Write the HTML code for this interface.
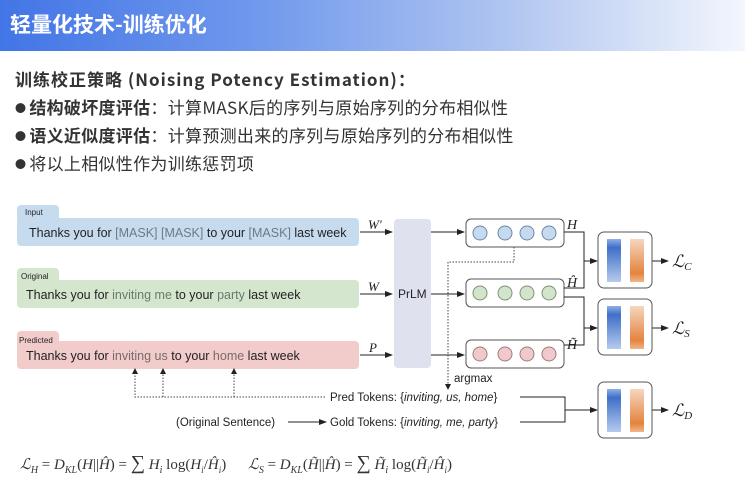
<!DOCTYPE html>
<html><head><meta charset="utf-8"><style>
body{margin:0;width:745px;height:502px;overflow:hidden;background:#fff;font-family:"Liberation Sans","Noto Sans CJK SC",sans-serif;position:relative}
.hdr{position:absolute;left:0;top:0;width:745px;height:51px;background:linear-gradient(90deg,#4275e6 0%,#7199ec 35%,#b4c8f1 70%,#f3f6fd 100%)}
.hdr span{position:absolute;left:10px;top:9px;color:#fff;font-size:21px;font-weight:bold;font-family:"Noto Sans CJK SC",sans-serif}
.t{position:absolute;left:15px;font-size:17px;color:#333;font-family:"Noto Sans CJK SC",sans-serif;white-space:nowrap;letter-spacing:0.3px}
.b{font-size:11px;vertical-align:2px;margin-right:3px}
.m{position:absolute;top:452px;font-family:"Liberation Serif",serif;font-size:15px;color:#333;white-space:nowrap}
</style></head><body>
<div class="hdr"><span>轻量化技术-训练优化</span></div>
<div class="t" style="top:66px;font-weight:bold;letter-spacing:1px">训练校正策略 (Noising Potency Estimation)：</div>
<div class="t" style="top:94px"><span class="b">●</span><b>结构破坏度评估</b>：计算MASK后的序列与原始序列的分布相似性</div>
<div class="t" style="top:122px"><span class="b">●</span><b>语义近似度评估</b>：计算预测出来的序列与原始序列的分布相似性</div>
<div class="t" style="top:150px"><span class="b">●</span>将以上相似性作为训练惩罚项</div>
<svg width="745" height="502" style="position:absolute;left:0;top:0" font-family="Liberation Sans,sans-serif">
<defs>
<marker id="a" markerWidth="8" markerHeight="6" refX="7" refY="3" orient="auto"><path d="M0,0L8,3L0,6z" fill="#222"/></marker>
<linearGradient id="bl" x1="0" y1="0" x2="0" y2="1"><stop offset="0" stop-color="#8fb0e6"/><stop offset=".2" stop-color="#3f6fc8"/><stop offset="1" stop-color="#b5cbee"/></linearGradient>
<linearGradient id="or" x1="0" y1="0" x2="0" y2="1"><stop offset="0" stop-color="#f6d6bf"/><stop offset=".8" stop-color="#e4843e"/><stop offset="1" stop-color="#f1b58a"/></linearGradient>
</defs>
<g font-size="12.5" fill="#222">
<rect x="17" y="205" width="42" height="18" rx="4" fill="#c7dbef"/>
<rect x="17" y="218" width="342" height="28" rx="4" fill="#c7dbef"/>
<text x="25" y="215" font-size="8">Input</text>
<text x="29" y="237">Thanks you for <tspan fill="#6a7a88">[MASK] [MASK]</tspan> to your <tspan fill="#6a7a88">[MASK]</tspan> last week</text>
<rect x="17" y="268" width="42" height="18" rx="4" fill="#d5e6cf"/>
<rect x="17" y="280" width="342" height="28" rx="4" fill="#d5e6cf"/>
<text x="21" y="279" font-size="8">Original</text>
<text x="26" y="299">Thanks you for <tspan fill="#6a7a6a">inviting me</tspan> to your <tspan fill="#6a7a6a">party</tspan> last week</text>
<rect x="17" y="331" width="42" height="18" rx="4" fill="#f1cccb"/>
<rect x="17" y="341" width="342" height="28" rx="4" fill="#f1cccb"/>
<text x="19" y="343" font-size="8">Predicted</text>
<text x="26" y="360">Thanks you for <tspan fill="#7a6a6a">inviting us</tspan> to your <tspan fill="#7a6a6a">home</tspan> last week</text>
</g>
<g stroke="#222" stroke-width="1" fill="none">
<line x1="360" y1="232" x2="392" y2="232" marker-end="url(#a)"/>
<line x1="360" y1="294" x2="392" y2="294" marker-end="url(#a)"/>
<line x1="360" y1="355" x2="392" y2="355" marker-end="url(#a)"/>
<line x1="431" y1="232" x2="464" y2="232" marker-end="url(#a)"/>
<line x1="431" y1="294" x2="464" y2="294" marker-end="url(#a)"/>
<line x1="431" y1="355" x2="464" y2="355" marker-end="url(#a)"/>
</g>
<g font-family="Liberation Serif,serif" font-style="italic" font-size="13" fill="#222">
<text x="368" y="229">W'</text><text x="368" y="291">W</text><text x="369" y="352">P</text>
</g>
<rect x="394" y="219" width="37" height="149" rx="4" fill="#dfe1ef"/>
<text x="398" y="298" font-size="12" fill="#222">PrLM</text>
<g stroke="#555" stroke-width="1">
<rect x="466" y="219" width="98" height="28" rx="5" fill="#fff"/>
<rect x="466" y="279" width="98" height="28" rx="5" fill="#fff"/>
<rect x="466" y="340" width="98" height="28" rx="5" fill="#fff"/>
<g fill="#c5d9ef" stroke="#6c88a8"><circle cx="480" cy="233" r="7"/><circle cx="505" cy="233" r="7"/><circle cx="527" cy="233" r="7"/><circle cx="549" cy="233" r="7"/></g>
<g fill="#d3e4cc" stroke="#7d9373"><circle cx="480" cy="293" r="7"/><circle cx="505" cy="293" r="7"/><circle cx="527" cy="293" r="7"/><circle cx="549" cy="293" r="7"/></g>
<g fill="#efc9cb" stroke="#a07a7c"><circle cx="480" cy="354" r="7"/><circle cx="505" cy="354" r="7"/><circle cx="527" cy="354" r="7"/><circle cx="549" cy="354" r="7"/></g>
</g>
<g font-family="Liberation Serif,serif" font-style="italic" font-size="14" fill="#222">
<text x="567" y="229">H</text><text x="567" y="287">Ĥ</text><text x="567" y="349">H̃</text>
</g>
<g stroke="#222" fill="none">
<polyline points="564,232 584,232 584,288 564,288"/>
<line x1="584" y1="261" x2="597" y2="261" marker-end="url(#a)"/>
<polyline points="564,297 584,297 584,345 564,345"/>
<line x1="584" y1="328" x2="597" y2="328" marker-end="url(#a)"/>
<polyline points="520,397 565,397 565,422 520,422"/>
<line x1="565" y1="410" x2="597" y2="410" marker-end="url(#a)"/>
<line x1="652" y1="261" x2="668" y2="261" marker-end="url(#a)"/>
<line x1="652" y1="328" x2="668" y2="328" marker-end="url(#a)"/>
<line x1="652" y1="410" x2="668" y2="410" marker-end="url(#a)"/>
<line x1="288" y1="422" x2="326" y2="422" marker-end="url(#a)"/>
</g>
<g stroke="#444" fill="none" stroke-dasharray="1.5,1.5">
<polyline points="514,247 514,262 448,262 448,385"/>
<polyline points="325,397 135,397 135,372"/>
<line x1="163" y1="397" x2="163" y2="372"/>
<line x1="234" y1="397" x2="234" y2="372"/>
</g>
<g fill="#222"><path d="M445,384L451,384L448,390z"/><path d="M132,374L138,374L135,368z"/><path d="M160,374L166,374L163,368z"/><path d="M231,374L237,374L234,368z"/></g>
<text x="454" y="382" font-size="11.5" fill="#222">argmax</text>
<text x="330" y="401" font-size="11.5" fill="#222">Pred Tokens: {<tspan font-style="italic">inviting, us, home</tspan>}</text>
<text x="330" y="426" font-size="11.5" fill="#222">Gold Tokens: {<tspan font-style="italic">inviting, me, party</tspan>}</text>
<text x="176" y="426" font-size="11.5" fill="#222">(Original Sentence)</text>
<g>
<rect x="598" y="232" width="54" height="56" rx="6" fill="#fff" stroke="#555"/>
<rect x="607" y="239" width="14" height="43" fill="url(#bl)"/><rect x="630" y="239" width="14" height="43" fill="url(#or)"/>
<rect x="598" y="299" width="54" height="56" rx="6" fill="#fff" stroke="#555"/>
<rect x="607" y="306" width="14" height="43" fill="url(#bl)"/><rect x="630" y="306" width="14" height="43" fill="url(#or)"/>
<rect x="598" y="382" width="54" height="56" rx="6" fill="#fff" stroke="#555"/>
<rect x="607" y="389" width="14" height="43" fill="url(#bl)"/><rect x="630" y="389" width="14" height="43" fill="url(#or)"/>
</g>
<g font-family="Liberation Serif,serif" font-style="italic" fill="#222">
<text x="672" y="267" font-size="17">ℒ<tspan font-size="11" dy="3">C</tspan></text>
<text x="672" y="334" font-size="17">ℒ<tspan font-size="11" dy="3">S</tspan></text>
<text x="672" y="416" font-size="17">ℒ<tspan font-size="11" dy="3">D</tspan></text>
</g>
</svg>
<div class="m" style="left:20px"><i>ℒ<sub style="font-size:10px">H</sub></i> = <i>D<sub style="font-size:10px">KL</sub></i>(<i>H</i>||<i>Ĥ</i>) = <span style="font-size:20px">∑</span> <i>H<sub style="font-size:10px">i</sub></i> log(<i>H<sub style="font-size:9px">i</sub></i>/<i>Ĥ<sub style="font-size:9px">i</sub></i>)</div>
<div class="m" style="left:248px"><i>ℒ<sub style="font-size:10px">S</sub></i> = <i>D<sub style="font-size:10px">KL</sub></i>(<i>H̃</i>||<i>Ĥ</i>) = <span style="font-size:20px">∑</span> <i>H̃<sub style="font-size:10px">i</sub></i> log(<i>H̃<sub style="font-size:9px">i</sub></i>/<i>Ĥ<sub style="font-size:9px">i</sub></i>)</div>
</body></html>
